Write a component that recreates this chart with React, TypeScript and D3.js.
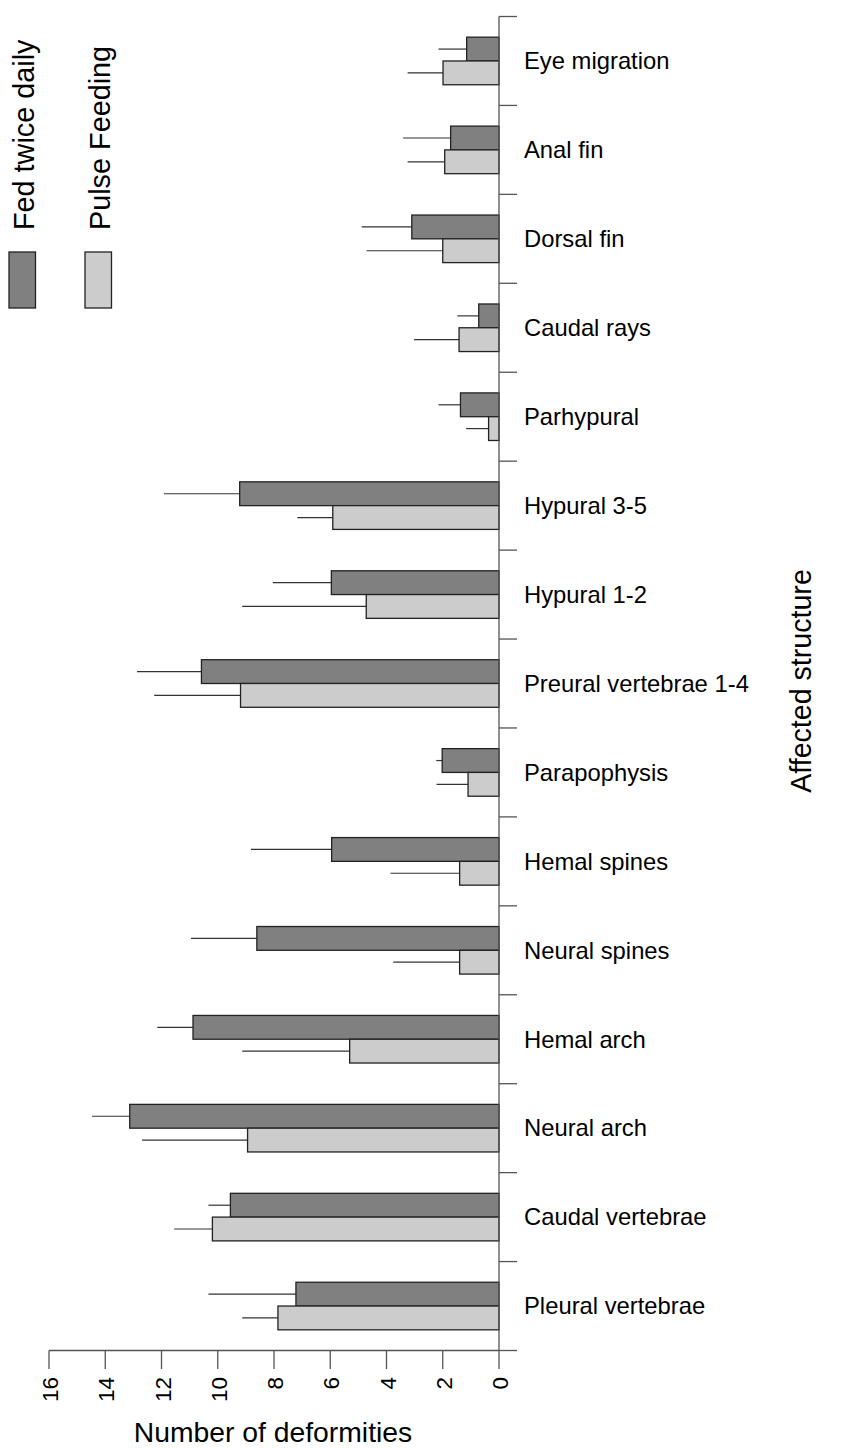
import React from "react";
import * as d3 from "d3";

// categories listed top to bottom as in the figure
const categories = [
  "Eye migration",
  "Anal fin",
  "Dorsal fin",
  "Caudal rays",
  "Parhypural",
  "Hypural 3-5",
  "Hypural 1-2",
  "Preural vertebrae 1-4",
  "Parapophysis",
  "Hemal spines",
  "Neural spines",
  "Hemal arch",
  "Neural arch",
  "Caudal vertebrae",
  "Pleural vertebrae",
];

const fedMeans = [1.15, 1.72, 3.1, 0.72, 1.37, 9.22, 5.96, 10.58, 2.02, 5.95, 8.61, 10.88, 13.13, 9.55, 7.22];
const fedErrors = [1.0, 1.69, 1.78, 0.76, 0.78, 2.69, 2.08, 2.29, 0.21, 2.87, 2.34, 1.27, 1.34, 0.78, 3.11];

const pulseMeans = [1.99, 1.93, 2.0, 1.42, 0.37, 5.91, 4.72, 9.19, 1.1, 1.4, 1.4, 5.31, 8.94, 10.19, 7.86];
const pulseErrors = [1.26, 1.32, 2.71, 1.6, 0.8, 1.26, 4.41, 3.07, 1.12, 2.46, 2.36, 3.82, 3.75, 1.36, 1.27];

const seriesNames = ["Fed twice daily", "Pulse Feeding"];
const seriesColors = ["#808080", "#cccccc"];
const xTicks = [0, 2, 4, 6, 8, 10, 12, 14, 16];

const W = 842;
const H = 1448;
const font = "Liberation Sans, Arial, Helvetica, sans-serif";

const App: React.FC = () => {
  const x = d3.scaleLinear().domain([0, 16]).range([499, 49]);
  const y = d3
    .scaleBand<string>()
    .domain(categories)
    .range([16.5, 1350.5])
    .paddingInner(0.465)
    .paddingOuter(0.2325);
  const ySub = d3
    .scaleBand<string>()
    .domain(seriesNames)
    .range([0, y.bandwidth()]);

  const series = [
    { name: seriesNames[0], means: fedMeans, errors: fedErrors, color: seriesColors[0] },
    { name: seriesNames[1], means: pulseMeans, errors: pulseErrors, color: seriesColors[1] },
  ];

  const step = y.step();
  const boundaries = categories.map((c) => (y(c) as number) - (step - y.bandwidth()) / 2);
  boundaries.push(boundaries[boundaries.length - 1] + step);

  const axisColor = "#555";

  return (
    <svg
      width={W}
      height={H}
      style={{ position: "absolute", left: 0, top: 0, background: "#fff" }}
      fontFamily={font}
    >
      {/* bars and error lines */}
      {series.map((s) => (
        <g key={s.name}>
          {categories.map((c, i) => {
            const y0 = (y(c) as number) + (ySub(s.name) as number);
            const h = ySub.bandwidth();
            const xv = x(s.means[i]);
            const xe = x(s.means[i] + s.errors[i]);
            return (
              <g key={c}>
                <line x1={xv} x2={xe} y1={y0 + h / 2} y2={y0 + h / 2} stroke="#333" strokeWidth={1.2} />
                <rect
                  x={xv}
                  y={y0}
                  width={x(0) - xv}
                  height={h}
                  fill={s.color}
                  stroke="#222"
                  strokeWidth={1.3}
                />
              </g>
            );
          })}
        </g>
      ))}

      {/* vertical category axis on the right */}
      <line x1={499} x2={499} y1={boundaries[0]} y2={boundaries[boundaries.length - 1]} stroke={axisColor} strokeWidth={1.3} />
      {boundaries.map((b, i) => (
        <line key={i} x1={499} x2={517} y1={b} y2={b} stroke={axisColor} strokeWidth={1.3} />
      ))}
      {categories.map((c) => (
        <text
          key={c}
          x={524}
          y={(y(c) as number) + y.bandwidth() / 2}
          dy="0.35em"
          fontSize={23.8}
          fill="#000"
        >
          {c}
        </text>
      ))}

      {/* bottom value axis */}
      <line x1={x(16)} x2={x(0)} y1={1350.5} y2={1350.5} stroke={axisColor} strokeWidth={1.3} />
      {xTicks.map((t) => (
        <g key={t}>
          <line x1={x(t)} x2={x(t)} y1={1350.5} y2={1369} stroke={axisColor} strokeWidth={1.3} />
          <text
            transform={`translate(${x(t) + 9},1377) rotate(-90)`}
            textAnchor="end"
            fontSize={22.5}
            fill="#000"
          >
            {t}
          </text>
        </g>
      ))}

      {/* axis titles */}
      <text x={273} y={1442} textAnchor="middle" fontSize={28.3} fill="#000">
        Number of deformities
      </text>
      <text
        transform={`translate(811,681) rotate(-90)`}
        textAnchor="middle"
        fontSize={28.6}
        fill="#000"
      >
        Affected structure
      </text>

      {/* legend */}
      {series.map((s, i) => {
        const bx = 9 + i * 76;
        return (
          <g key={s.name}>
            <rect x={bx} y={252} width={26.5} height={56} fill={s.color} stroke="#222" strokeWidth={1.3} />
            <text
              transform={`translate(${bx + 25},230) rotate(-90)`}
              textAnchor="start"
              fontSize={28.8}
              fill="#000"
            >
              {s.name}
            </text>
          </g>
        );
      })}
    </svg>
  );
};

export default App;
